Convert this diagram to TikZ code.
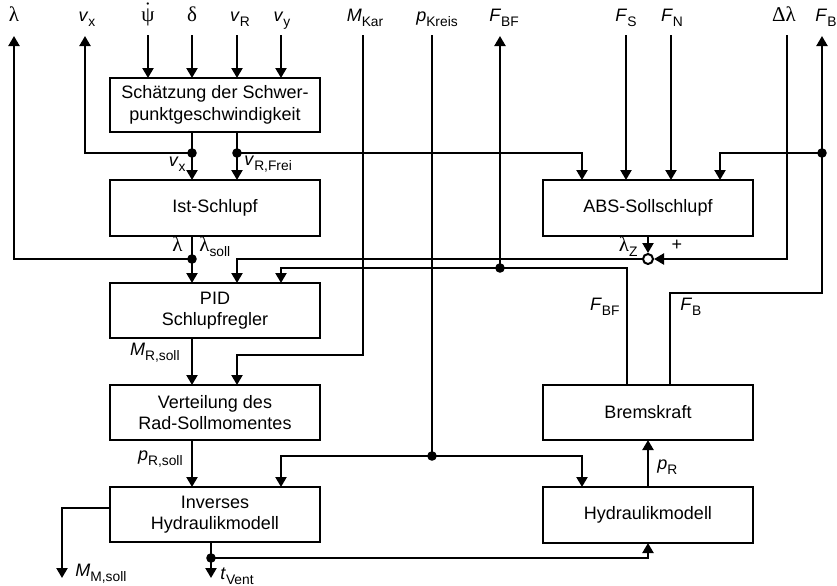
\documentclass[tikz,border=0pt]{standalone}
\usepackage{fontspec}
\setmainfont{Liberation Sans}
\newfontfamily\grk{Liberation Serif}
\usetikzlibrary{arrows.meta}
\newcommand\gk[1]{{\grk\fontsize{10.5pt}{12pt}\selectfont #1}}
\newcommand\vsub[2]{\textit{#1}\raisebox{-0.28em}{\fontsize{6.9pt}{7pt}\selectfont #2}}
\newcommand\gsub[2]{\gk{#1}\raisebox{-0.28em}{\fontsize{6.9pt}{7pt}\selectfont #2}}
\begin{document}
\begin{tikzpicture}[x=0.5pt,y=-0.5pt,
 blk/.style={draw, line width=0.9pt, minimum width=105pt, minimum height=27.5pt, inner sep=0pt, outer sep=0pt, align=center, font=\fontsize{9}{10.8}\selectfont},
 lab/.style={inner sep=0pt, font=\fontsize{9}{10.8}\selectfont},
 ln/.style={line width=1.1pt},
 arr/.style={line width=1.1pt, -{Triangle[length=5pt,width=5.5pt]}},
 dot/.style={circle, fill, inner sep=0pt, minimum size=4.8pt},
]
\useasboundingbox (0,0) rectangle (837,585);

% blocks
\node[blk, minimum height=27pt] (sch) at (215,105) {Schätzung der Schwer-\\punktgeschwindigkeit};
\node[blk, minimum height=28pt] (ist) at (215,208) {Ist-Schlupf};
\node[blk] (pid) at (215,310.5) {PID\\Schlupfregler};
\node[blk] (vert) at (215,412.5) {Verteilung des\\Rad-Sollmomentes};
\node[blk] (inv) at (215,514.5) {Inverses\\Hydraulikmodell};
\node[blk, minimum height=28pt] (abs) at (648,208) {ABS-Sollschlupf};
\node[blk] (brems) at (648,412.5) {Bremskraft};
\node[blk, minimum height=28pt] (hyd) at (648,515) {Hydraulikmodell};

% top labels
\node[lab, anchor=base] (Llam) at (14,21) {\gk{λ}};
\node[lab, anchor=base] (Lvx) at (87,21) {\vsub{v}{x}};
\node[lab, anchor=base] (Lpsi) at (148,21) {\gk{$\dot{\hbox{ψ}}$}};
\node[lab, anchor=base] (Ldel) at (192,21) {\gk{δ}};
\node[lab, anchor=base] (Lvr) at (240,21) {\vsub{v}{R}};
\node[lab, anchor=base] (Lvy) at (282,21) {\vsub{v}{y}};
\node[lab, anchor=base] (Lmk) at (365,21) {\vsub{M}{Kar}};
\node[lab, anchor=base] (Lpk) at (437,21) {\vsub{p}{Kreis}};
\node[lab, anchor=base] (Lbf) at (504,21) {\vsub{F}{BF}};
\node[lab, anchor=base] (Lfs) at (626,21) {\vsub{F}{S}};
\node[lab, anchor=base] (Lfn) at (672,21) {\vsub{F}{N}};
\node[lab, anchor=base] (Ldl) at (784,21) {\gk{Δλ}};
\node[lab, anchor=base] (Lfb) at (826,21) {\vsub{F}{B}};

% line ends at top
\coordinate (tlam) at (14,36);
\coordinate (tvx) at (85,36);
\coordinate (tpsi) at (148,35);
\coordinate (tdel) at (192,35);
\coordinate (tvr) at (237,35);
\coordinate (tvy) at (281,35);
\coordinate (tmk) at (363,35);
\coordinate (tpk) at (432,35);
\coordinate (tbf) at (500,36);
\coordinate (tfs) at (626,35);
\coordinate (tfn) at (671,35);
\coordinate (tdl) at (787,35);
\coordinate (tfb) at (822,36);

% junctions and corners
\node[dot] (jvx) at (192,153) {};
\node[dot] (jvr) at (237,153) {};
\node[dot] (jlam) at (192,259) {};
\node[dot] (jbf) at (500,268) {};
\node[dot] (jfb) at (822,153) {};
\node[dot] (jpk) at (432,456) {};
\node[dot] (jtv) at (211,558) {};
\node[circle, draw, fill=white, line width=1pt, inner sep=0pt, minimum size=5pt] (sum) at (648,259) {};
\coordinate (a1) at (582,180);
\coordinate (a4) at (720,180);
\coordinate (bfo) at (627,385);
\coordinate (bo) at (670,385);
\coordinate (kfb) at (822,293);
\coordinate (kmk) at (363,355);
\coordinate (kmm) at (62,508);
\coordinate (bmm) at (62,578);
\coordinate (btv) at (211,578);

% connectors
\foreach \c in {tpsi,tdel,tvr,tvy} \draw[arr] (\c) -- (\c |- sch.north);
\draw[arr] (jvx |- sch.south) -- (jvx |- ist.north);
\draw[arr] (jvr |- sch.south) -- (jvr |- ist.north);
\draw[arr] (jvx.center) -| (tvx);
\draw[arr] (jvr.center) -| (a1);
\draw[arr] (tfs) -- (tfs |- abs.north);
\draw[arr] (tfn) -- (tfn |- abs.north);
\draw[arr] (jfb.center) -| (a4);
\draw[arr] (ist.south -| jlam) -- (jlam |- pid.north);
\draw[arr] (jlam.center) -| (tlam);
\draw[arr] (abs.south -| sum) -- (sum.north);
\draw[arr] (tdl) |- (sum.east);
\draw[arr] (sum.west) -| (pid.north -| jvr);
\draw[arr] (bfo) |- (jbf.center) -| (pid.north -| tvy);
\draw[arr] (jbf.center) -- (tbf);
\draw[arr] (bo) |- (kfb) -- (tfb);
\draw[arr] (tmk) -- (kmk) -| (vert.north -| jvr);
\draw[arr] (pid.south -| jvx) -- (vert.north -| jvx);
\draw[arr] (vert.south -| jvx) -- (inv.north -| jvx);
\draw[ln] (tpk) -- (jpk.center);
\draw[arr] (jpk.center) -| (inv.north -| tvy);
\draw[arr] (jpk.center) -| (hyd.north -| a1);
\draw[arr] (inv.west |- kmm) -- (kmm) -- (bmm);
\draw[arr] (inv.south -| jtv) -- (btv);
\draw[arr] (jtv.center) -| (hyd.south);
\draw[arr] (hyd.north) -- (brems.south);

% labels on lines
\node[lab, anchor=east] (lvx) at (186,164) {\vsub{v}{x}};
\node[lab, anchor=west] (lvrf) at (244,164) {\vsub{v}{R,Frei}};
\node[lab, anchor=east] (llam) at (183,244) {\gk{λ}};
\node[lab, anchor=west] (llams) at (199,247) {\gsub{λ}{soll}};
\node[lab, anchor=east] (llz) at (638,247) {\gsub{λ}{Z}};
\node[lab] (lplus) at (677,245) {+};
\node[lab, anchor=east] (lmr) at (180,353) {\vsub{M}{R,soll}};
\node[lab, anchor=east] (lpr) at (183,459) {\vsub{p}{R,soll}};
\node[lab, anchor=west] (lmm) at (75,574) {\vsub{M}{M,soll}};
\node[lab, anchor=west] (ltv) at (220,576) {\vsub{t}{Vent}};
\node[lab, anchor=east] (lfbf) at (620,307) {\vsub{F}{BF}};
\node[lab, anchor=west] (lfb) at (680,307) {\vsub{F}{B}};
\node[lab, anchor=west] (lpR) at (657,467) {\vsub{p}{R}};
\end{tikzpicture}
\end{document}
